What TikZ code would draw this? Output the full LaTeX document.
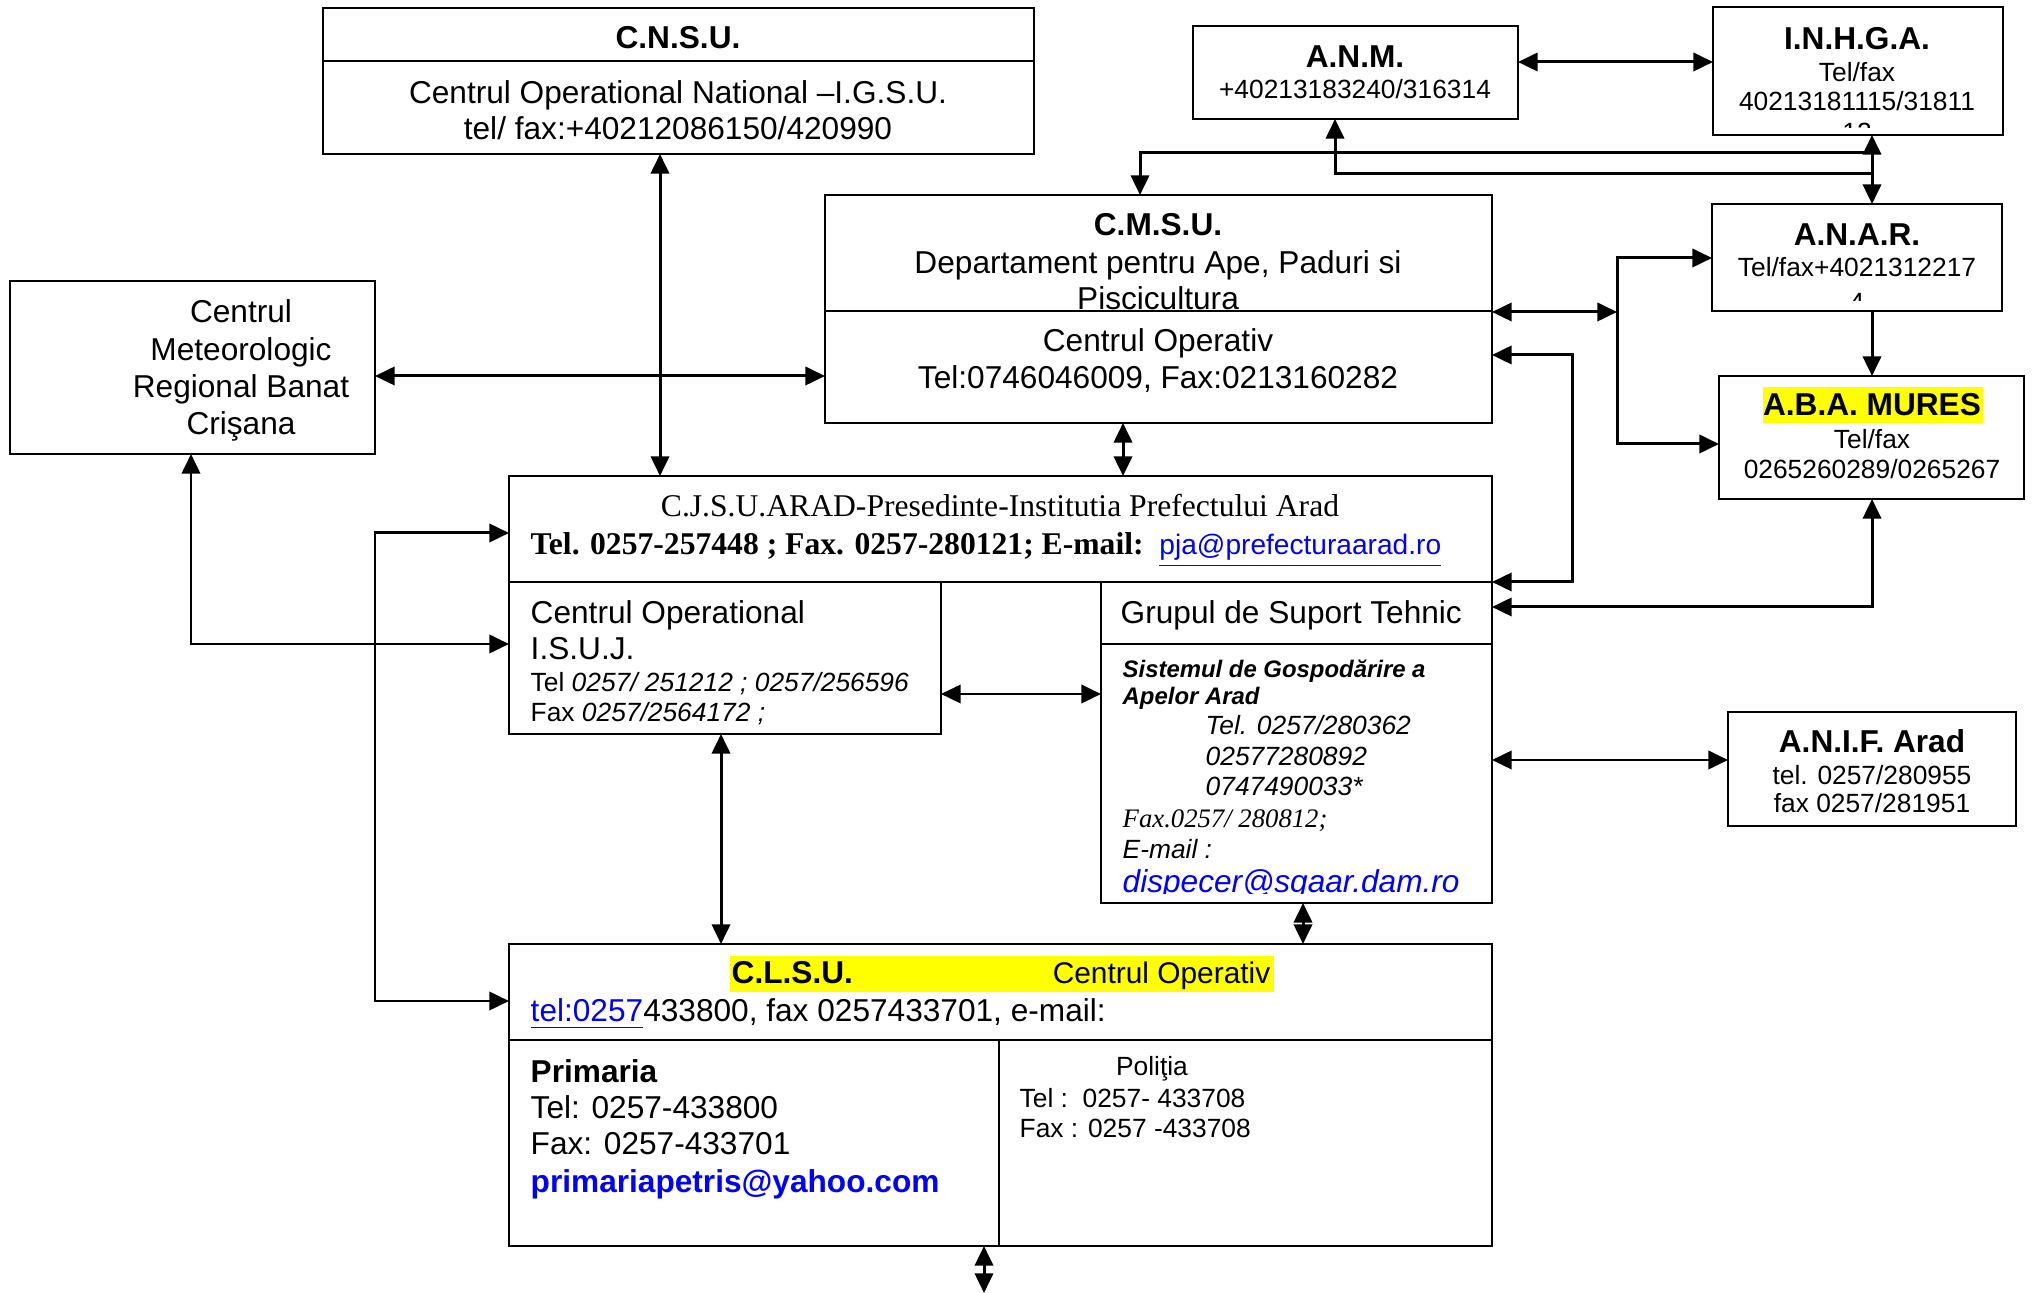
\documentclass[tikz,border=0pt]{standalone}
\usepackage{fontspec}
\setmainfont{Liberation Sans}
\newfontfamily\tms{Liberation Serif}
\usetikzlibrary{arrows.meta}
\definecolor{hl}{RGB}{255,255,0}
\definecolor{lnk}{RGB}{0,0,255}
\newcommand\mkbx[5]{\node[box, minimum width={(#4-#2)*0.1mm}, minimum height={(#5-#3)*0.1mm}] (#1) at (#2,#3) {};}
\begin{document}
\begin{tikzpicture}[x=0.1mm,y=-0.1mm,
  box/.style={draw, line width=0.6pt, anchor=north west, inner sep=0pt, outer sep=0pt},
  ln/.style={line width=0.6pt},
  >={Triangle[length=5.6pt,width=5.2pt]},
  cn/.style={line width=0.85pt, <->},
  c1/.style={line width=0.85pt, ->},
  tc/.style={inner sep=0pt, anchor=base},
  tl/.style={inner sep=0pt, anchor=base west},
  tr/.style={inner sep=0pt, anchor=base east},
  n9/.style={font=\fontsize{9}{11}\selectfont},
  b9/.style={font=\fontsize{9}{11}\selectfont\bfseries},
  n75/.style={font=\fontsize{7.5}{9}\selectfont},
  n85/.style={font=\fontsize{8.5}{10}\selectfont},
]
\useasboundingbox (0,0) rectangle (2033,1293);

% highlights
\fill[hl] (730,956) rectangle (1274,992);
\fill[hl] (1763,387) rectangle (1983,423);

% boxes
\mkbx{cnsu}{323}{8}{1034}{154}
\mkbx{anm}{1193}{26}{1518}{119}
\mkbx{inhga}{1713}{7}{2003}{135}
\mkbx{meteo}{10}{281}{375}{454}
\mkbx{cmsu}{825}{195}{1492}{423}
\mkbx{anar}{1712}{204}{2002}{311}
\mkbx{aba}{1719}{376}{2024}{499}
\mkbx{cjsu}{509}{476}{1492}{582}
\mkbx{isuj}{509}{582}{941}{734}
\mkbx{gst}{1101}{582}{1492}{903}
\mkbx{anif}{1728}{712}{2016}{826}
\mkbx{clsu}{509}{944}{1492}{1246}

% dividers
\draw[ln] (cnsu.west |- 0,61) -- (cnsu.east |- 0,61);
\draw[ln] (cmsu.west |- 0,311) -- (cmsu.east |- 0,311);
\draw[ln] (gst.west |- 0,644) -- (gst.east |- 0,644);
\draw[ln] (clsu.west |- 0,1040) -- (clsu.east |- 0,1040);
\draw[ln] (999,1040) -- (clsu.south -| 999,0);

% ---- texts
\node[tc,b9] (cnsuA) at (678,49) {C.N.S.U.};
\node[tc,n9] (cnsuB) at (678,104) {Centrul Operational National –I.G.S.U.};
\node[tc,n9] (cnsuC) at (678,140) {tel/ fax:+40212086150/420990};

\node[tc,b9] (anmA) at (1355,68) {A.N.M.};
\node[tc,n75] (anmB) at (1355,99) {+40213183240/316314};

\begin{scope}
\clip (1713,7) rectangle (2003,128);
\node[tc,b9] (inhgaA) at (1857,50) {I.N.H.G.A.};
\node[tc,n75] (inhgaB) at (1857,82) {Tel/fax};
\node[tc,n75] (inhgaC) at (1857,111) {40213181115/31811};
\node[tc,n75] (inhgaD) at (1857,142) {12};
\end{scope}

\begin{scope}
\clip (1712,204) rectangle (2002,301);
\node[tc,b9] (anarA) at (1857,246) {A.N.A.R.};
\node[tc,n75] (anarB) at (1857,277) {Tel/fax+4021312217};
\node[tc,n75] (anarC) at (1857,312) {4};
\end{scope}

\node[tc,b9] (abaA) at (1872,416) {A.B.A. MURES};
\node[tc,n75] (abaB) at (1872,449) {Tel/fax};
\node[tc,n75] (abaC) at (1872,479) {0265260289/0265267};

\node[tc,n9] (metA) at (241,323) {Centrul};
\node[tc,n9] (metB) at (241,361) {Meteorologic};
\node[tc,n9] (metC) at (241,398) {Regional Banat};
\node[tc,n9] (metD) at (241,435) {Crişana};

\begin{scope}
\clip (825,195) rectangle (1492,311);
\node[tc,b9] (cmsuA) at (1158,236) {C.M.S.U.};
\node[tc,n9] (cmsuB) at (1158,274) {Departament pentru Ape, Paduri si};
\node[tc,n9] (cmsuC) at (1158,310) {Piscicultura};
\end{scope}
\node[tc,n9] (cmsuD) at (1158,352) {Centrul Operativ};
\node[tc,n9] (cmsuE) at (1158,389) {Tel:0746046009, Fax:0213160282};

\node[tc,n9,font=\fontsize{9}{11}\selectfont\tms] (cjsuA) at (1000,517) {C.J.S.U.ARAD-Presedinte-Institutia Prefectului Arad};
\node[tl,n9] (cjsuB) at (530,555) {{\tms\bfseries Tel. 0257-257448 ; Fax. 0257-280121; E-mail:\ \ }{\fontsize{8}{10}\selectfont\color{lnk}\underline{pja@prefecturaarad.ro}}};

\node[tl,n9] (isujA) at (530,624) {Centrul Operational};
\node[tl,n9] (isujB) at (530,660) {I.S.U.J.};
\node[tl,n75] (isujC) at (530,692) {Tel \textit{0257/ 251212 ; 0257/256596}};
\node[tl,n75] (isujD) at (530,722) {Fax \textit{0257/2564172 ;}};

\node[tl,n9] (gstA) at (1120,624) {Grupul de Suport Tehnic};
\begin{scope}
\clip (1101,644) rectangle (1492,894);
\node[tl,font=\fontsize{6.8}{8}\selectfont\bfseries\itshape] (gstB) at (1122,678) {Sistemul de Gospodărire a};
\node[tl,font=\fontsize{6.8}{8}\selectfont\bfseries\itshape] (gstC) at (1122,705) {Apelor Arad};
\node[tl,font=\fontsize{7.5}{9}\selectfont\itshape] (gstD) at (1205,735) {Tel. 0257/280362};
\node[tl,font=\fontsize{7.5}{9}\selectfont\itshape] (gstE) at (1205,766) {02577280892};
\node[tl,font=\fontsize{7.5}{9}\selectfont\itshape] (gstF) at (1205,796) {0747490033*};
\node[tl,font=\fontsize{7.6}{9}\selectfont\tms\itshape] (gstG) at (1122,828) {Fax.0257/ 280812;};
\node[tl,font=\fontsize{7.5}{9}\selectfont\itshape] (gstH) at (1122,859) {E-mail :};
\node[tl,font=\fontsize{9}{11}\selectfont\itshape] (gstI) at (1122,893) {\color{lnk}\underline{dispecer@sgaar.dam.ro}};
\end{scope}

\node[tc,b9] (anifA) at (1872,753) {A.N.I.F. Arad};
\node[tc,n75] (anifB) at (1872,785) {tel. 0257/280955};
\node[tc,n75] (anifC) at (1872,813) {fax 0257/281951};

\node[tl,b9] (clsuA) at (731,984) {C.L.S.U.};
\node[tr,n85] (clsuB) at (1271,984) {Centrul Operativ};
\node[tl,n9] (clsuC) at (530,1022) {{\color{lnk}\underline{tel:0257}}433800, fax 0257433701, e-mail:};

\node[tl,b9] (primA) at (530,1083) {Primaria};
\node[tl,n9] (primB) at (530,1118) {Tel: 0257-433800};
\node[tl,n9] (primC) at (530,1155) {Fax: 0257-433701};
\node[tl,b9] (primD) at (530,1193) {\color{lnk}primariapetris@yahoo.com};

\node[tc,n75] (polA) at (1152,1076) {Poliţia};
\node[tl,n75] (polB) at (1019,1107) {Tel :\ \ 0257- 433708};
\node[tl,n75] (polC) at (1019,1137) {Fax : 0257 -433708};

% ---- connectors
\draw[cn] (cnsu.south -| 660,0) -- (cjsu.north -| 660,0);
\draw[cn] (meteo.east |- 0,376) -- (cmsu.west |- 0,376);
\draw[cn] (meteo.south -| 191,0) |- (isuj.west |- 0,644);
\draw[cn] (cjsu.west |- 0,533) -- (375,533) -- (375,1001) -- (clsu.west |- 0,1001);
\draw[cn] (cmsu.south -| 1123,0) -- (cjsu.north -| 1123,0);
\draw[cn] (isuj.east |- 0,694) -- (gst.west |- 0,694);
\draw[cn] (isuj.south -| 721,0) -- (clsu.north -| 721,0);
\draw[cn] (gst.south -| 1303,0) -- (clsu.north -| 1303,0);
\coordinate (bot) at (984,1293);
\draw[cn] (clsu.south -| bot) -- (bot);
\draw[cn] (gst.east |- 0,760) -- (anif.west |- 0,760);
\draw[cn] (aba.south -| 1872,0) |- (gst.east |- 0,607);
\draw[cn] (cmsu.east |- 0,355) -- (1572,355) |- (gst.north east);
\coordinate (jn) at (1617,312);
\draw[cn] (cmsu.east |- jn) -- (jn);
\draw[c1] (jn) |- (anar.west |- 0,258);
\draw[c1] (jn) |- (aba.west |- 0,444);
\draw[cn] (inhga.south -| 1872,0) -- (anar.north -| 1872,0);
\draw[c1] (1872,153) -| (cmsu.north -| 1140,0);
\draw[c1] (1872,174) -| (anm.south -| 1335,0);
\draw[cn] (anm.east |- 0,62) -- (inhga.west |- 0,62);
\draw[c1] (anar.south -| 1872,0) -- (aba.north -| 1872,0);
\end{tikzpicture}
\end{document}
